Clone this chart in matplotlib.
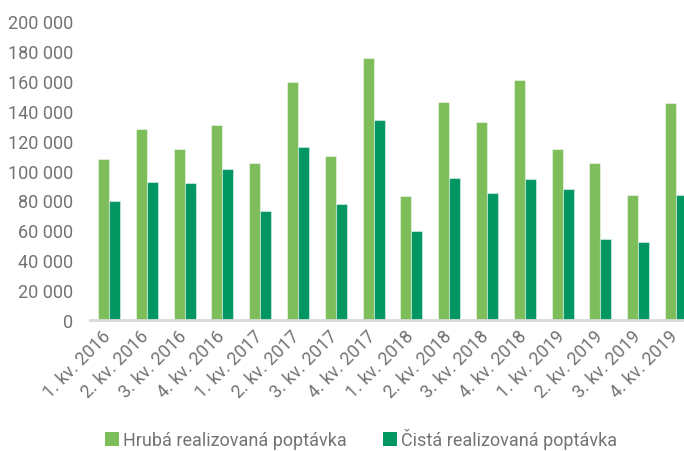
import matplotlib.pyplot as plt
import matplotlib.transforms as mtransforms
import numpy as np

plt.rcParams["font.family"] = ["Roboto", "DejaVu Sans"]

quarters = [
    "1. kv. 2016", "2. kv. 2016", "3. kv. 2016", "4. kv. 2016",
    "1. kv. 2017", "2. kv. 2017", "3. kv. 2017", "4. kv. 2017",
    "1. kv. 2018", "2. kv. 2018", "3. kv. 2018", "4. kv. 2018",
    "1. kv. 2019", "2. kv. 2019", "3. kv. 2019", "4. kv. 2019",
]
gross = [107500, 127800, 114200, 130500, 105300, 159500, 109800, 175100,
         83200, 145900, 132700, 160600, 114700, 105300, 83700, 145400]
net = [79600, 92400, 91700, 101100, 73000, 115800, 77600, 133800,
       59800, 95300, 85000, 94400, 87900, 54200, 52200, 83900]
series_names = ["Hrubá realizovaná poptávka", "Čistá realizovaná poptávka"]
yticks = list(range(0, 200001, 20000))

LIGHT = "#7dbe5a"
DARK = "#009662"
TEXT = "#737373"

fig = plt.figure(figsize=(6.84, 4.52), dpi=100)
ax = fig.add_axes([0.1316, 0.2898, 0.8684, 0.6615])

x = np.arange(len(quarters))
w = 0.29
ax.bar(x - w / 2, gross, width=w, color=LIGHT, edgecolor=(1, 1, 1, 0.45),
       linewidth=0.8, label=series_names[0])
ax.bar(x + w / 2, net, width=w, color=DARK, edgecolor=(1, 1, 1, 0.45),
       linewidth=0.8, label=series_names[1])

ax.set_xlim(-0.5, 15.21)
ax.set_ylim(0, 200000)
ax.set_yticks(yticks)
ax.set_yticklabels([f"{v:,}".replace(",", " ") for v in yticks])
ax.set_xticks(x)
ax.set_xticklabels(quarters, rotation=45, ha="right", rotation_mode="anchor")

ax.tick_params(axis="y", length=0, pad=12, labelsize=13, labelcolor=TEXT)
ax.tick_params(axis="x", length=0, pad=5, labelsize=13, labelcolor=TEXT)

# nudge the rotated labels a little left so they end at the bar pair
offset = mtransforms.ScaledTranslation(-5 / 72, 0, fig.dpi_scale_trans)
for lbl in ax.get_xticklabels():
    lbl.set_transform(lbl.get_transform() + offset)

for side in ["top", "right", "left"]:
    ax.spines[side].set_visible(False)
ax.spines["bottom"].set_color("#d9d9d9")
ax.spines["bottom"].set_linewidth(2)

leg = fig.legend(
    loc="center", bbox_to_anchor=(0.528, 0.027), ncol=2, frameon=False,
    fontsize=13, handlelength=0.75, handleheight=0.75, handletextpad=0.25,
    columnspacing=2.0, borderpad=0.2,
)
for t in leg.get_texts():
    t.set_color(TEXT)
for h in leg.legend_handles:
    h.set_edgecolor("none")

fig.savefig("out.png", dpi=100)
